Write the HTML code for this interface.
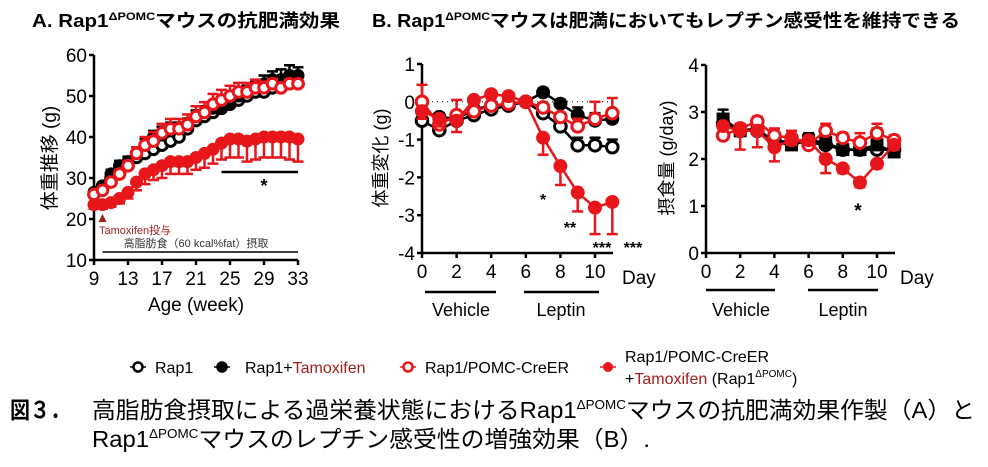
<!DOCTYPE html>
<html><head><meta charset="utf-8"><style>
html,body{margin:0;padding:0;background:#fff;}
svg{display:block;font-family:"Liberation Sans","Noto Sans CJK JP",sans-serif;}
</style></head><body>
<svg id="fig" width="988" height="467" viewBox="0 0 988 467">
<g id="titles">
<text x="32" y="27" font-size="18" font-weight="bold" textLength="308" lengthAdjust="spacingAndGlyphs">A. Rap1<tspan font-size="11" dy="-7">ΔPOMC</tspan><tspan dy="7">マウスの抗肥満効果</tspan></text>
<text x="372" y="27" font-size="18" font-weight="bold" textLength="588" lengthAdjust="spacingAndGlyphs">B. Rap1<tspan font-size="11" dy="-7">ΔPOMC</tspan><tspan dy="7">マウスは肥満においてもレプチン感受性を維持できる</tspan></text>
</g>
<g id="chartA"></g>
<g id="chartB1"></g>
<g id="chartB2"></g>
<g id="legend"></g>
<g id="caption">
<text x="10" y="418" font-size="23" font-weight="bold" textLength="60" lengthAdjust="spacingAndGlyphs">図３．</text>
<text x="92" y="418" font-size="23" textLength="883" lengthAdjust="spacingAndGlyphs">高脂肪食摂取による過栄養状態におけるRap1<tspan font-size="13" dy="-9">ΔPOMC</tspan><tspan dy="9">マウスの抗肥満効果作製（A）と</tspan></text>
<text x="92" y="447" font-size="23" textLength="558" lengthAdjust="spacingAndGlyphs">Rap1<tspan font-size="13" dy="-9">ΔPOMC</tspan><tspan dy="9">マウスのレプチン感受性の増強効果（B）.</tspan></text>
</g>
</svg>
<script>
// ---- Chart A data ----
const weeksA = [9,10,11,12,13,14,15,16,17,18,19,20,21,22,23,24,25,26,27,28,29,30,31,32,33];
const aRap1 = [26,28,30,31,33,35,36,37,38,39,40,42,44,45,46,47,48,49,50,51,51,52,52,53,53];
const aRap1Tam = [26.5,28,31,33,34,36,38,40,41,42,42,43,45,46,47,47,48,50,51,52,53,54,54,55,55];
const aPomc = [26,27,29,31,33,36,38,39,41,42,42,43,45,46,48,49,50,51,51,52,52,53,52,53,53];
const aPomcTam = [23.5,23.5,24,25,26.5,29,31,32,33,34,34,34,35,36,37,38.5,39.5,39.5,39,39.5,40,40,40,40,39.5];
const aPomcTamErr = [1,1,1,1.2,1.5,2,2.5,2.5,3,3,3,3,3,3.5,3.5,4,4.5,4.5,5,5,5,5,5,5.5,5.5];
const aPomcErr = [0.5,0.8,1,1,1.2,1.5,2,2.2,2.2,2.4,2.4,2.5,2.5,2.5,2.5,2.5,2.5,2.2,2.2,2,1.5,1.2,1,1,0.5];
const aTamErr = [0.5,0.8,1,1.2,1.2,1.5,1.5,1.5,1.5,1.5,1.5,1.5,1.5,1.5,1.5,1.5,1.5,1.5,1.5,1.5,2,2,2.5,2.5,2];
const ticksA_y = [10,20,30,40,50,60];
const ticksA_x = [9,13,17,21,25,29,33];
// ---- Chart B1 data ----
const daysB1 = [0,1,2,3,4,5,6,7,8,9,10,11];
const b1Rap1 = [-0.5,-0.75,-0.5,-0.35,-0.2,-0.1,0,-0.3,-0.65,-1.15,-1.15,-1.2];
const b1Rap1Tam = [-0.25,-0.4,-0.45,-0.2,-0.1,-0.05,0,0.25,-0.05,-0.35,-0.5,-0.45];
const b1Pomc = [0,-0.6,-0.35,-0.25,-0.1,-0.05,0,-0.15,-0.4,-0.65,-0.45,-0.3];
const b1PomcTam = [-0.25,-0.45,-0.5,0.05,0.2,0.15,0,-0.95,-1.7,-2.4,-2.8,-2.65];
const b1PomcTamErr = [0.2,0.2,0.3,0.1,0.1,0.1,0,0.45,0.5,0.5,0.7,0.85];
const b1PomcErr = [0.45,0.2,0.4,0.1,0.1,0.1,0,0.1,0.1,0.2,0.45,0.4];
const b1Rap1Err = [0.1,0.1,0.1,0.1,0.1,0.1,0,0.1,0.1,0.2,0.2,0.2];
const ticksB1_y = [-4,-3,-2,-1,0,1];
const ticksB1_x = [0,2,4,6,8,10];
// ---- Chart B2 data ----
const daysB2 = [1,2,3,4,5,6,7,8,9,10,11];
const b2Rap1 = [2.75,2.6,2.6,2.4,2.35,2.35,2.3,2.2,2.2,2.2,2.2];
const b2Rap1Tam = [2.85,2.6,2.65,2.35,2.3,2.4,2.35,2.2,2.2,2.3,2.15];
const b2Pomc = [2.5,2.65,2.8,2.5,2.45,2.3,2.6,2.45,2.35,2.55,2.4];
const b2PomcTam = [2.7,2.6,2.6,2.25,2.4,2.4,2.0,1.8,1.5,1.9,2.3];
const b2PomcTamErr = [0.1,0.4,0.35,0.3,0.1,0.1,0.3,0.1,0.1,0.1,0.1];
const b2PomcErr = [0.15,0.1,0.1,0.15,0.15,0.1,0.15,0.1,0.2,0.2,0.1];
const b2Rap1Err = [0.2,0.1,0.1,0.1,0.1,0.15,0.1,0.1,0.1,0.35,0.1];
const ticksB2_y = [0,1,2,3,4];
const ticksB2_x = [0,2,4,6,8,10];

const NS = "http://www.w3.org/2000/svg";
const RED = "#e8161b";
function mk(parent, tag, attrs, txt) {
  const e = document.createElementNS(NS, tag);
  for (const k in attrs) e.setAttribute(k, attrs[k]);
  if (txt !== undefined) e.textContent = txt;
  parent.appendChild(e);
  return e;
}
function lin(d0, d1, r0, r1) { return v => r0 + (v - d0) * (r1 - r0) / (d1 - d0); }

function axes(g, sx, sy, xt, yt, xEnd, yMin, yMax, fs) {
  const x0 = sx(xt[0]);
  let e = mk(g, "line", {x1: x0, x2: x0, y1: sy(yMax), y2: sy(yMin), stroke: "#000", "stroke-width": 2.5});
  
  
  e = mk(g, "line", {x1: x0, x2: xEnd, y1: sy(yMin), y2: sy(yMin), stroke: "#000", "stroke-width": 2.5});
  
  
  yt.forEach(v => {
    mk(g, "line", {x1: x0 - 5, x2: x0, y1: sy(v), y2: sy(v), stroke: "#000", "stroke-width": 2.5});
    const t = mk(g, "text", {x: x0 - 7, y: sy(v) + 7, "font-size": fs, "text-anchor": "end"}, v);
    
    
  });
  xt.forEach(v => {
    mk(g, "line", {x1: sx(v), x2: sx(v), y1: sy(yMin), y2: sy(yMin) + 5, stroke: "#000", "stroke-width": 2.5});
    const t = mk(g, "text", {x: sx(v), y: sy(yMin) + 25, "font-size": fs, "text-anchor": "middle"}, v);
    
    
  });
}
function series(g, name, xs, ys, errs, color, filled, r, shape, errDir) {
  const sg = mk(g, "g", {});
  
  
  const sx = g._sx, sy = g._sy;
  if (errs) xs.forEach((x, i) => {
    const y2 = ys[i] + errDir * errs[i];
    mk(sg, "line", {x1: sx(x), x2: sx(x), y1: sy(ys[i]), y2: sy(y2), stroke: color, "stroke-width": 2.5});
    mk(sg, "line", {x1: sx(x) - 5.5, x2: sx(x) + 5.5, y1: sy(y2), y2: sy(y2), stroke: color, "stroke-width": 2.5});
  });
  mk(sg, "polyline", {points: xs.map((x, i) => sx(x) + "," + sy(ys[i])).join(" "), fill: "none", stroke: color, "stroke-width": 2.5});
  xs.forEach((x, i) => {
    let m;
    if (shape === "sq") m = mk(sg, "rect", {x: sx(x) - r, y: sy(ys[i]) - r, width: 2 * r, height: 2 * r, fill: color});
    else m = mk(sg, "circle", {cx: sx(x), cy: sy(ys[i]), r: filled ? r : r - 1.2, fill: filled ? color : "#fff", stroke: color, "stroke-width": filled ? 0 : 3});
    
    
  });
}
function label(g, attrs, txt, name) {
  const t = mk(g, "text", attrs, txt);
  
  
  return t;
}

// ---- Chart A ----
(function () {
  const g = document.getElementById("chartA");
  const sx = lin(9, 33, 94, 298), sy = lin(10, 60, 260, 55);
  g._sx = sx; g._sy = sy;
  axes(g, sx, sy, ticksA_x, ticksA_y, 298, 10, 60, 19);
  label(g, {x: 196, y: 311, "font-size": 19, "text-anchor": "middle"}, "Age (week)", "x-axis-title");
  label(g, {x: 0, y: 0, "font-size": 19, "text-anchor": "middle", transform: "translate(56,158) rotate(-90)"}, "体重推移 (g)", "y-axis-title");
  series(g, "series-rap1", weeksA, aRap1, null, "#000", false, 6.5, "c", 1);
  series(g, "series-rap1-tamoxifen", weeksA, aRap1Tam, aTamErr, "#000", true, 6.5, "c", 1);
  series(g, "series-rap1-pomc-creer", weeksA, aPomc, aPomcErr, RED, false, 6.5, "c", 1);
  series(g, "series-rap1-pomc-creer-tamoxifen", weeksA, aPomcTam, aPomcTamErr, RED, true, 6.5, "c", -1);
  mk(g, "line", {x1: sx(24), x2: sx(33), y1: 172, y2: 172, stroke: "#000", "stroke-width": 2.5});
  label(g, {x: sx(29), y: 192, "font-size": 18, "font-weight": "bold", "text-anchor": "middle"}, "*", "significance-star");
  mk(g, "polygon", {points: `${sx(10)-4},222 ${sx(10)+4},222 ${sx(10)},214`, fill: "#a31d1d"});
  label(g, {x: 99, y: 234, "font-size": 11, fill: "#a31d1d"}, "Tamoxifen投与", "tamoxifen-annotation");
  label(g, {x: 196, y: 247, "font-size": 11, fill: "#333", "text-anchor": "middle"}, "高脂肪食（60 kcal%fat）摂取", "hfd-annotation");
  mk(g, "line", {x1: sx(10), x2: sx(33), y1: 252, y2: 252, stroke: "#000", "stroke-width": 1.5});
})();

// ---- Chart B1 ----
(function () {
  const g = document.getElementById("chartB1");
  const sx = lin(0, 10, 422, 595), sy = lin(-4, 1, 253, 64);
  g._sx = sx; g._sy = sy;
  axes(g, sx, sy, ticksB1_x, ticksB1_y, 613, -4, 1, 19);
  mk(g, "line", {x1: 422, x2: 613, y1: sy(0), y2: sy(0), stroke: "#000", "stroke-width": 1, "stroke-dasharray": "1,4"});
  label(g, {x: 622, y: 284, "font-size": 19}, "Day", "x-axis-unit");
  label(g, {x: 0, y: 0, "font-size": 18, "text-anchor": "middle", transform: "translate(387,158) rotate(-90)"}, "体重変化 (g)", "y-axis-title");
  series(g, "series-rap1", daysB1, b1Rap1, b1Rap1Err, "#000", false, 7, "c", 1);
  series(g, "series-rap1-tamoxifen", daysB1, b1Rap1Tam, b1Rap1Err, "#000", true, 7, "c", 1);
  series(g, "series-rap1-pomc-creer", daysB1, b1Pomc, b1PomcErr, RED, false, 7, "c", 1);
  series(g, "series-rap1-pomc-creer-tamoxifen", daysB1, b1PomcTam, b1PomcTamErr, RED, true, 7, "c", -1);
  mk(g, "line", {x1: 425, x2: 496, y1: 292, y2: 292, stroke: "#000", "stroke-width": 2.5});
  mk(g, "line", {x1: 524, x2: 599, y1: 292, y2: 292, stroke: "#000", "stroke-width": 2.5});
  label(g, {x: 461, y: 316, "font-size": 18, "text-anchor": "middle"}, "Vehicle", "vehicle-label");
  label(g, {x: 561, y: 316, "font-size": 18, "text-anchor": "middle"}, "Leptin", "leptin-label");
  [["*", 543, 205], ["**", 570, 233], ["***", 602, 253], ["***", 633, 253]].forEach(s =>
    label(g, {x: s[1], y: s[2], "font-size": 16, "font-weight": "bold", "text-anchor": "middle"}, s[0], "significance-star"));
})();

// ---- Chart B2 ----
(function () {
  const g = document.getElementById("chartB2");
  const sx = lin(0, 10, 706, 877), sy = lin(0, 4, 253, 65);
  g._sx = sx; g._sy = sy;
  axes(g, sx, sy, ticksB2_x, ticksB2_y, 895, 0, 4, 19);
  label(g, {x: 900, y: 284, "font-size": 19}, "Day", "x-axis-unit");
  label(g, {x: 0, y: 0, "font-size": 18, "text-anchor": "middle", transform: "translate(673,158) rotate(-90)"}, "摂食量 (g/day)", "y-axis-title");
  series(g, "series-rap1", daysB2, b2Rap1, null, "#000", false, 7, "c", 1);
  series(g, "series-rap1-tamoxifen", daysB2, b2Rap1Tam, b2Rap1Err, "#000", true, 6.5, "sq", 1);
  series(g, "series-rap1-pomc-creer", daysB2, b2Pomc, b2PomcErr, RED, false, 7, "c", 1);
  series(g, "series-rap1-pomc-creer-tamoxifen", daysB2, b2PomcTam, b2PomcTamErr, RED, true, 7, "c", -1);
  mk(g, "line", {x1: 706, x2: 775, y1: 290, y2: 290, stroke: "#000", "stroke-width": 2.5});
  mk(g, "line", {x1: 808, x2: 878, y1: 290, y2: 290, stroke: "#000", "stroke-width": 2.5});
  label(g, {x: 741, y: 316, "font-size": 18, "text-anchor": "middle"}, "Vehicle", "vehicle-label");
  label(g, {x: 843, y: 316, "font-size": 18, "text-anchor": "middle"}, "Leptin", "leptin-label");
  label(g, {x: 858, y: 217, "font-size": 19, "font-weight": "bold", "text-anchor": "middle"}, "*", "significance-star");
})();

// ---- Legend ----
(function () {
  const g = document.getElementById("legend");
  const entries = [
    [138, "#000", false, 155, ["Rap1"]],
    [222, "#000", true, 245, ["Rap1+", "Tamoxifen"]],
    [408, RED, false, 425, ["Rap1/POMC-CreER"]],
  ];
  entries.forEach(en => {
    const eg = mk(g, "g", {});
    
    
    mk(eg, "line", {x1: en[0] - 8, x2: en[0] + 8, y1: 367, y2: 367, stroke: en[1], "stroke-width": 1.5});
    mk(eg, "circle", {cx: en[0], cy: 367, r: 4.5, fill: en[2] ? en[1] : "#fff", stroke: en[1], "stroke-width": 2.5});
    const t = mk(eg, "text", {x: en[3], y: 373, "font-size": 16}, en[4][0]);
    if (en[4][1]) mk(t, "tspan", {fill: "#a31d1d"}, en[4][1]);
  });
  const eg = mk(g, "g", {});
  
  
  mk(eg, "line", {x1: 600, x2: 616, y1: 367, y2: 367, stroke: RED, "stroke-width": 1.5});
  mk(eg, "circle", {cx: 608, cy: 367, r: 5, fill: RED});
  mk(eg, "text", {x: 625, y: 362, "font-size": 16}, "Rap1/POMC-CreER");
  const t2 = mk(eg, "text", {x: 625, y: 384, "font-size": 16});
  mk(t2, "tspan", {}, "+");
  mk(t2, "tspan", {fill: "#a31d1d"}, "Tamoxifen");
  mk(t2, "tspan", {}, " (Rap1");
  mk(t2, "tspan", {"font-size": 10, dy: -7}, "ΔPOMC");
  mk(t2, "tspan", {dy: 7}, ")");
})();
</script>
</body></html>
